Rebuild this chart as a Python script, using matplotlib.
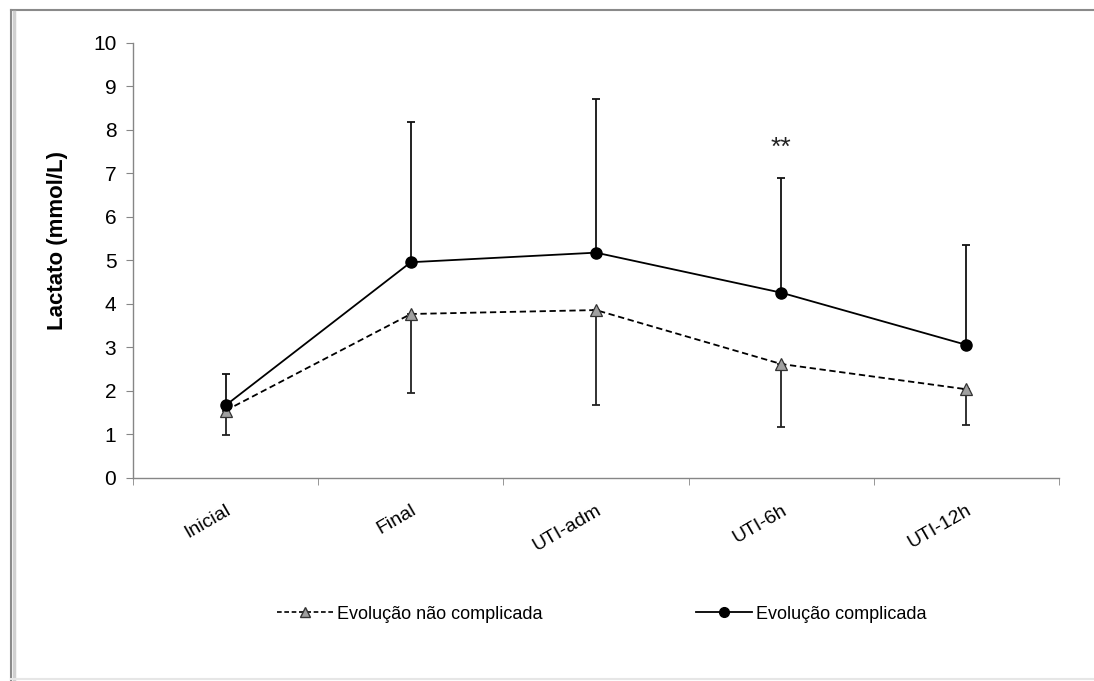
import numpy as np
import matplotlib
matplotlib.use("Agg")
import matplotlib.pyplot as plt
from matplotlib.lines import Line2D

plt.rcParams['font.family'] = ['Liberation Sans', 'DejaVu Sans']

# =========================
# DATA
# =========================
categories = ["Inicial", "Final", "UTI-adm", "UTI-6h", "UTI-12h"]

comp_mean = [1.67, 4.96, 5.18, 4.26, 3.06]      # Evolução complicada
comp_upper = [2.40, 8.18, 8.72, 6.89, 5.36]     # topo da barra de erro

noncomp_mean = [1.55, 3.77, 3.86, 2.62, 2.04]   # Evolução não complicada
noncomp_lower = [0.98, 1.95, 1.67, 1.18, 1.21]  # fundo da barra de erro

yticks = list(range(0, 11))
star_label = "**"
star_pos = (3, 7.6)

label_comp = "Evolução complicada"
label_noncomp = "Evolução não complicada"
ylabel = "Lactato (mmol/L)"

# =========================
# PLOT
# =========================
x = np.arange(len(categories))
fig = plt.figure(figsize=(10.94, 6.81), dpi=100)
ax = fig.add_axes([0.1216, 0.2981, 0.8464, 0.6388])

gray = "#868686"

up_err = np.array(comp_upper) - np.array(comp_mean)
low_err = np.array(noncomp_mean) - np.array(noncomp_lower)

ax.errorbar(x, noncomp_mean, yerr=[low_err, np.zeros_like(low_err)],
            fmt="none", ecolor="#222222", elinewidth=1.3, capsize=3.2,
            capthick=1.3, zorder=2)
ax.plot(x, noncomp_mean, linestyle=(0, (3.5, 2)), color="black", lw=1.3,
        marker="^", markersize=8, markerfacecolor="#a0a0a0",
        markeredgecolor="#333333", markeredgewidth=0.9, zorder=3)

ax.errorbar(x, comp_mean, yerr=[np.zeros_like(up_err), up_err],
            fmt="none", ecolor="#111111", elinewidth=1.3, capsize=3.2,
            capthick=1.3, zorder=4)
ax.plot(x, comp_mean, linestyle="-", color="black", lw=1.3,
        marker="o", markersize=8, markerfacecolor="black",
        markeredgecolor="black", zorder=5)

ax.text(star_pos[0], star_pos[1], star_label, ha="center", va="center",
        fontsize=19, color="#222222")

ax.set_xlim(-0.5, len(categories) - 0.5)
ax.set_ylim(0, 10)
ax.set_yticks(yticks)
ax.set_xticks(x)
ax.set_xticklabels(categories, rotation=30, ha="right", rotation_mode="anchor",
                   fontsize=14)
ax.set_xticks(np.arange(-0.5, len(categories), 1), minor=True)
ax.tick_params(axis="x", which="major", length=0, pad=17)
ax.tick_params(axis="x", which="minor", length=5, color=gray, direction="out")
ax.tick_params(axis="y", length=5, color=gray, labelsize=15, pad=7)

for s in ["top", "right"]:
    ax.spines[s].set_visible(False)
for s in ["left", "bottom"]:
    ax.spines[s].set_color(gray)
    ax.spines[s].set_linewidth(1.0)

ax.set_ylabel(ylabel, fontsize=16, fontweight="bold")
ax.yaxis.set_label_coords(-0.070, 0.545)

# Legenda onder de grafiek
handles = [
    Line2D([], [], linestyle=(0, (2.8, 1.6)), color="black", lw=1.2,
           marker="^", markersize=6.5, markerfacecolor="#a0a0a0",
           markeredgecolor="#333333"),
    Line2D([], [], linestyle="-", color="black", lw=1.3, marker="o",
           markersize=7, markerfacecolor="black"),
]
fig.legend(handles, [label_noncomp, label_comp], loc="center",
           bbox_to_anchor=(0.55, 0.098), ncol=2, frameon=False,
           fontsize=13, handlelength=3.1, handletextpad=0.2,
           columnspacing=8.5)

# Frame rondom figuur
fig.add_artist(Line2D([0.010, 1.0], [0.985, 0.985], color="#8a8a8a", lw=1.5,
                      transform=fig.transFigure))
fig.add_artist(Line2D([0.010, 0.010], [0.0, 0.985], color="#8a8a8a", lw=1.5,
                      transform=fig.transFigure))
fig.add_artist(Line2D([0.013, 0.013], [0.0, 0.983], color="#d0d0d0", lw=2.5,
                      transform=fig.transFigure))
fig.add_artist(Line2D([0.010, 1.0], [0.003, 0.003], color="#e6e6e6", lw=1.5,
                      transform=fig.transFigure))

fig.savefig("out.png", dpi=100)
plt.close(fig)
